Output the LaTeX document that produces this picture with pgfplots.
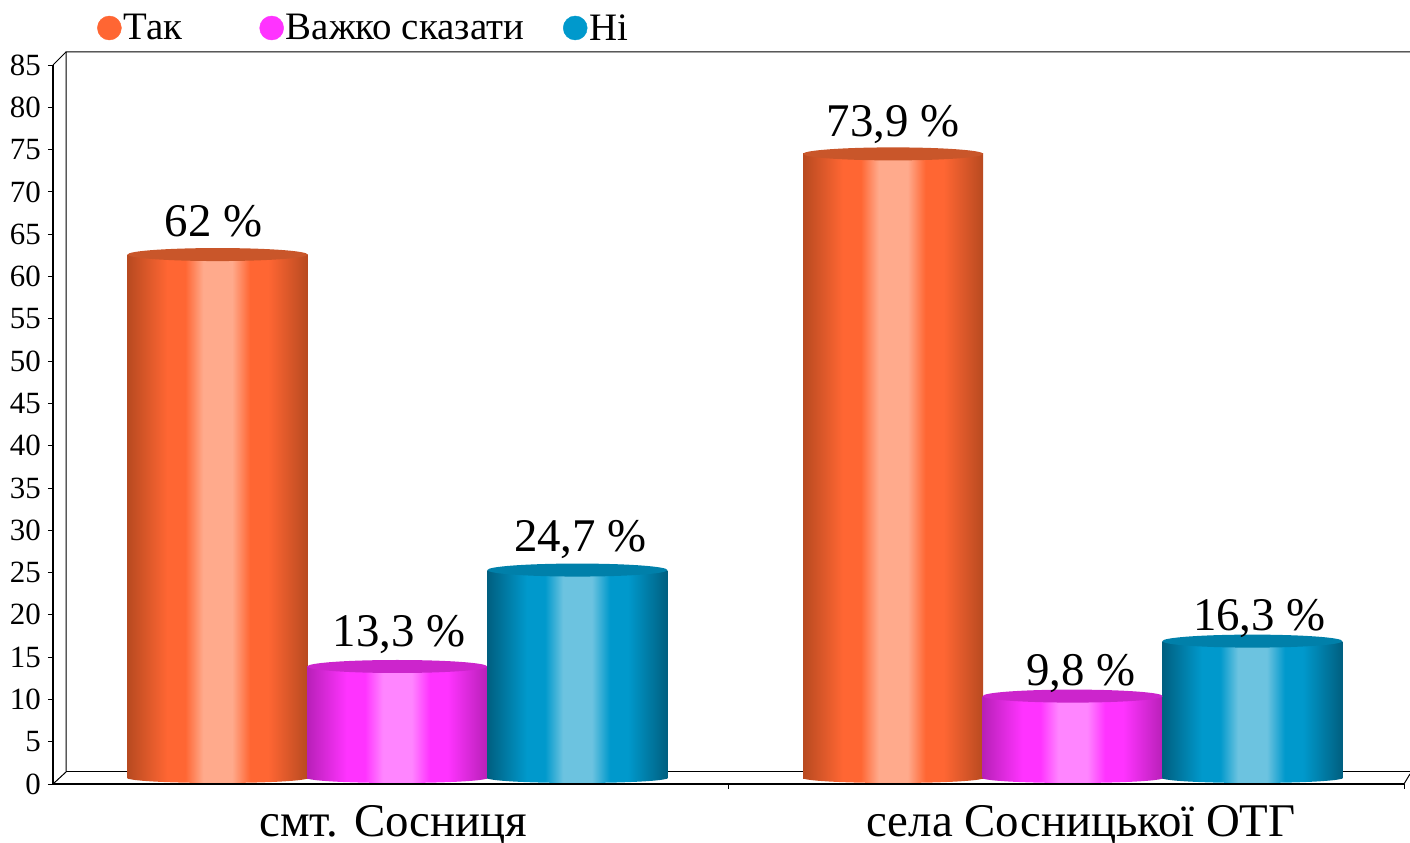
\documentclass[border=0pt]{standalone}
\usepackage{pgfplots}
\pgfplotsset{compat=1.18}
\usepackage{fontspec}
\setmainfont{Liberation Serif}
\definecolor{oD}{HTML}{B84A20}\definecolor{oB}{HTML}{FF6633}\definecolor{oH}{HTML}{FFAA8C}\definecolor{oT}{HTML}{C9562A}
\definecolor{mD}{HTML}{B820B8}\definecolor{mB}{HTML}{FF33FF}\definecolor{mH}{HTML}{FF85FF}\definecolor{mT}{HTML}{CC25CC}
\definecolor{bD}{HTML}{005F80}\definecolor{bB}{HTML}{0099CC}\definecolor{bH}{HTML}{6CC3E0}\definecolor{bT}{HTML}{0080AA}
\pgfdeclarehorizontalshading{cylo}{100bp}{color(0bp)=(oD);color(25bp)=(oD);color(36bp)=(oB);color(41bp)=(oB);color(46bp)=(oH);color(54bp)=(oH);color(59bp)=(oB);color(64bp)=(oB);color(75bp)=(oD);color(100bp)=(oD)}
\pgfdeclarehorizontalshading{cylm}{100bp}{color(0bp)=(mD);color(25bp)=(mD);color(36bp)=(mB);color(41bp)=(mB);color(46bp)=(mH);color(54bp)=(mH);color(59bp)=(mB);color(64bp)=(mB);color(75bp)=(mD);color(100bp)=(mD)}
\pgfdeclarehorizontalshading{cylb}{100bp}{color(0bp)=(bD);color(25bp)=(bD);color(36bp)=(bB);color(41bp)=(bB);color(46bp)=(bH);color(54bp)=(bH);color(59bp)=(bB);color(64bp)=(bB);color(75bp)=(bD);color(100bp)=(bD)}
\pgfdeclareplotmark{topo}{\path[fill=oT] (0bp,0bp) ellipse (90bp and 6.5bp);}
\pgfdeclareplotmark{topm}{\path[fill=mT] (0bp,0bp) ellipse (90bp and 6.5bp);}
\pgfdeclareplotmark{topb}{\path[fill=bT] (0bp,0bp) ellipse (90bp and 6.5bp);}
\pgfdeclareplotmark{boto}{\path[shading=cylo] (0bp,0bp) ellipse (90bp and 5bp);}
\pgfdeclareplotmark{botm}{\path[shading=cylm] (0bp,0bp) ellipse (90bp and 5bp);}
\pgfdeclareplotmark{botb}{\path[shading=cylb] (0bp,0bp) ellipse (90bp and 5bp);}
% #1 colour key, #2 x, #3 value, #4 label xshift, #5 label yshift
\newcommand{\cyl}[5]{%
  \addplot[forget plot,only marks,draw=none,mark=bot#1,yshift=6bp] coordinates {(#2,0)};
  \addplot[forget plot,ybar,bar width=180bp,bar shift=0pt,draw=none,shading=cyl#1,yshift=5bp] coordinates {(#2,#3)};
  \addplot[forget plot,only marks,draw=none,mark=top#1,yshift=5bp,
    nodes near coords={\pgfmathprintnumber[use comma,precision=1]{\pgfplotspointmeta}~\%},
    every node near coord/.style={font=\fontsize{47}{47}\selectfont,text=black,anchor=south,inner sep=0pt,xshift=#4,yshift=#5}]
    coordinates {(#2,#3)};
}
\newcommand{\legimg}[2]{\addlegendimage{legend image code/.code={\fill[#1] (#2,0bp) ellipse (12bp and 12bp);}}}
\begin{document}
\begin{tikzpicture}[x=1bp,y=1bp]
\path[use as bounding box] (0,0) rectangle (1410bp,843bp);
\begin{axis}[
  at={(53bp,59bp)},anchor=south west,
  scale only axis,width=1351bp,height=719bp,
  xmin=-0.5,xmax=1.5,ymin=0,ymax=85,clip=false,
  axis lines=left,
  axis line style={-,line width=2.2bp,black},
  ytick distance=5,
  minor y tick num=0,
  xtick={0.004,1.022},
  xticklabels={смт. Сосниця,села Сосницької ОТГ},
  tick style={black,line width=.8bp},
  major tick length=5bp,
  x tick style={draw=none},
  tick align=outside,
  /pgf/number format/assume math mode=true,
  y tick label style={font=\fontsize{31}{31}\selectfont,inner sep=0pt,xshift=-7bp},
  x tick label style={font=\fontsize{47}{47}\selectfont,inner sep=0pt,yshift=-16bp,anchor=north},
  legend style={draw=none,fill=none,at={(44bp,756bp)},anchor=west,inner sep=0pt,
    font=\fontsize{39}{39}\selectfont,legend cell align=left,
    /tikz/column 2/.style={column sep=75bp},
    /tikz/column 4/.style={column sep=37bp}},
  legend columns=3,
]
\draw[black,line width=1bp] (rel axis cs:0,0) -- ++(13bp,12bp) -- ++(0bp,720bp) -- ++(1344bp,0bp);
\draw[black,line width=1bp] (rel axis cs:0,1) -- ++(13bp,13bp);
\draw[black,line width=1bp] (rel axis cs:0,0) ++(13bp,12bp) -- ++(1344bp,0bp);
\draw[black,line width=1bp] (rel axis cs:1,0) -- ++(6bp,10bp);
\draw[black,line width=.8bp] (axis cs:0.5,0) -- ++(0bp,-5bp);
\draw[black,line width=.8bp] (rel axis cs:1,0) -- ++(0bp,-5bp);
\cyl{o}{-0.2563}{62}{-4bp}{17bp}
\cyl{m}{0.0096}{13.3}{2bp}{13bp}
\cyl{b}{0.2763}{24.7}{3bp}{11bp}
\cyl{o}{0.7437}{73.9}{0bp}{10bp}
\cyl{m}{1.0096}{9.8}{8bp}{3bp}
\cyl{b}{1.2755}{16.3}{7bp}{3bp}
\legimg{oB}{0bp}\addlegendentry{Так}
\legimg{mB}{-9bp}\addlegendentry{Важко сказати}
\legimg{bB}{-4bp}\addlegendentry{Ні}
\end{axis}
\end{tikzpicture}
\end{document}
